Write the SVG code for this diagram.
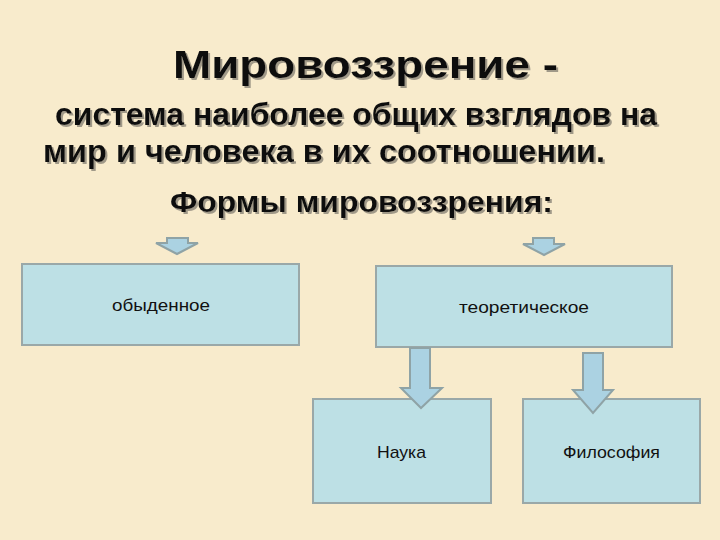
<svg xmlns="http://www.w3.org/2000/svg" width="720" height="540" viewBox="0 0 720 540">
<defs>
<filter id="shadow" x="-5%" y="-20%" width="110%" height="150%">
<feDropShadow dx="2" dy="2" stdDeviation="0.6" flood-color="#8a8478" flood-opacity="0.8"/>
</filter>
</defs>
<style>
.bg{fill:#f8ebcc}
.box{fill:#bde0e5;stroke:#9aa8a8;stroke-width:2}
.arr{fill:#abd2e2;stroke:#8fa3a6;stroke-width:2;stroke-linejoin:miter}
.h{font-family:"Liberation Sans",Arial,sans-serif;font-weight:bold;fill:#111;filter:url(#shadow)}
.lbl{font-family:"Liberation Sans",Arial,sans-serif;font-size:17px;fill:#111}
</style>
<rect class="bg" x="0" y="0" width="720" height="540"/>
<g id="title">
<text class="h" x="173" y="78" font-size="39" textLength="385" lengthAdjust="spacingAndGlyphs">Мировоззрение -</text>
<text class="h" x="55" y="125" font-size="31" textLength="602" lengthAdjust="spacingAndGlyphs">система наиболее общих взглядов на</text>
<text class="h" x="43" y="162" font-size="31" textLength="562" lengthAdjust="spacingAndGlyphs">мир и человека в их соотношении.</text>
<text class="h" x="170" y="212" font-size="30" textLength="383" lengthAdjust="spacingAndGlyphs">Формы мировоззрения:</text>
</g>
<g id="node-obydennoe">
<rect class="box" x="22" y="264" width="277" height="81"/>
<text class="lbl" x="112" y="311" textLength="98" lengthAdjust="spacingAndGlyphs">обыденное</text>
</g>
<g id="node-teoreticheskoe">
<rect class="box" x="376" y="266" width="296" height="81"/>
<text class="lbl" x="459" y="313" textLength="130" lengthAdjust="spacingAndGlyphs">теоретическое</text>
</g>
<g id="node-nauka">
<rect class="box" x="313" y="399" width="178" height="104"/>
<text class="lbl" x="377" y="458" textLength="49" lengthAdjust="spacingAndGlyphs">Наука</text>
</g>
<g id="node-filosofiya">
<rect class="box" x="523" y="399" width="177" height="104"/>
<text class="lbl" x="563" y="458" textLength="97" lengthAdjust="spacingAndGlyphs">Философия</text>
</g>
<g id="connectors">
<polygon class="arr" points="167,238 188,238 188,243 198,243 177,254 156,243 167,243"/>
<polygon class="arr" points="533,238 554,238 554,244 565,244 544,255 523,244 533,244"/>
<polygon class="arr" points="410,348 430,348 430,388 442,388 421,408 401,388 410,388"/>
<polygon class="arr" points="583,353 603,353 603,390 613,390 593,413 573,390 583,390"/>
</g>
</svg>
